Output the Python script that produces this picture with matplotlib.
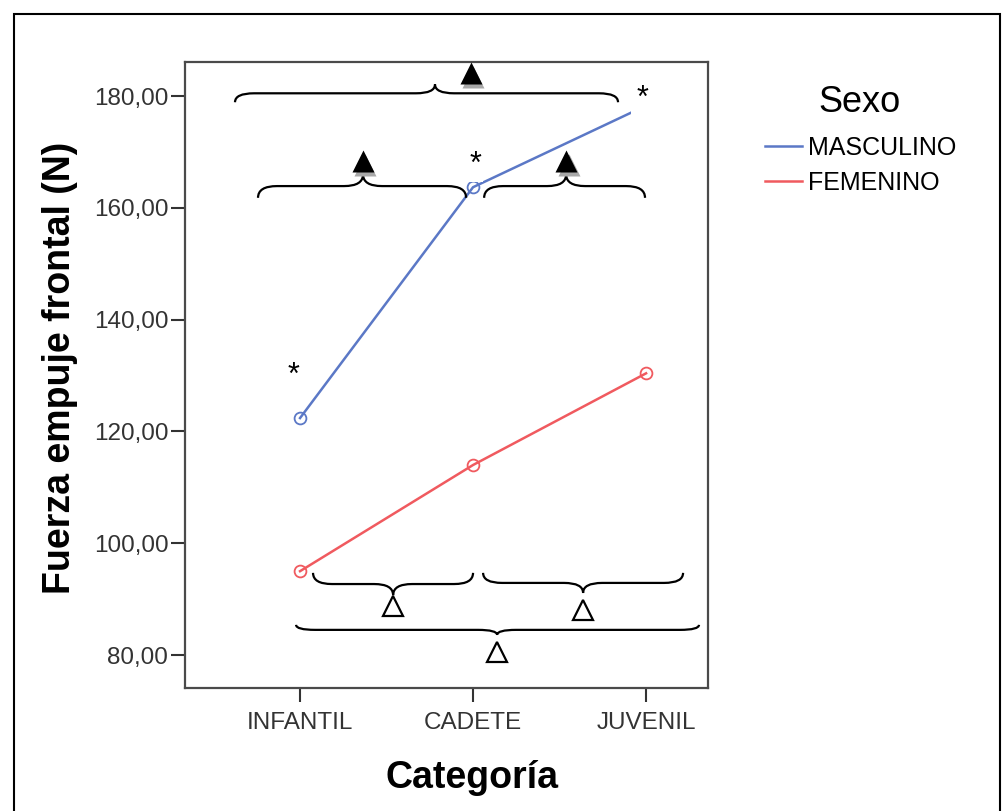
import matplotlib
matplotlib.use("Agg")
import matplotlib.pyplot as plt
from matplotlib.path import Path
from matplotlib.patches import PathPatch, Rectangle
from matplotlib.lines import Line2D

plt.rcParams['font.family'] = ['Liberation Sans', 'DejaVu Sans']

# data
categorias = ['INFANTIL', 'CADETE', 'JUVENIL']
masculino = [122.4, 163.7, 178.3]
femenino = [95.0, 114.0, 130.4]
yticks = [80, 100, 120, 140, 160, 180]

# significance brackets: (x0, x1, x tip, y at ends, height)
llaves_sup = [(-0.376, 1.838, 0.78, 178.9, 3.2),
              (-0.243, 0.96, 0.364, 161.8, 4.2),
              (1.064, 1.994, 1.538, 161.8, 4.2)]
marcas_sup = [(0.988, 184.1), (0.364, 168.4), (1.538, 168.4)]
llaves_inf = [(0.075, 1.0, 0.538, 94.7, -4.0),
              (1.058, 2.214, 1.636, 94.7, -3.6),
              (-0.023, 2.306, 1.139, 85.4, -1.8)]
marcas_inf = [(0.538, 88.8), (1.636, 88.0), (1.139, 80.6)]
# asterisks (x, baseline y, box pad)
asteriscos = [(-0.04, 128.5, 1.5), (1.017, 166.2, 1.0), (1.98, 178.0, 4.5)]


def llave(ax, x0, x1, xm, y0, h, w=0.11):
    ym = y0 + h / 2
    verts = [(x0, y0), (x0, ym), (x0 + w, ym),
             (xm - w, ym), (xm, ym), (xm, y0 + h),
             (xm, ym), (xm + w, ym),
             (x1 - w, ym), (x1, ym), (x1, y0)]
    codes = [Path.MOVETO, Path.CURVE3, Path.CURVE3,
             Path.LINETO, Path.CURVE3, Path.CURVE3,
             Path.CURVE3, Path.CURVE3,
             Path.LINETO, Path.CURVE3, Path.CURVE3]
    ax.add_patch(PathPatch(Path(verts, codes), fill=False, lw=1.6, color='black', zorder=4))


fig = plt.figure(figsize=(10.02, 8.11), dpi=100)
ax = fig.add_axes([185 / 1002, 1 - 688 / 811, 523 / 1002, 626 / 811])

azul = '#5b78c6'
rojo = '#f05a5f'
x = list(range(len(categorias)))
ax.plot(x, masculino, color=azul, lw=1.8, marker='o', ms=8.5, mfc='none', mew=1.3, zorder=3)
ax.plot(x, femenino, color=rojo, lw=1.8, marker='o', ms=8.5, mfc='none', mew=1.3, zorder=3)

for b in llaves_sup + llaves_inf:
    llave(ax, *b)
for mx, my in marcas_sup:
    ax.plot(mx + 0.014, my - 0.7, marker='^', ms=16, color='#a8a8a8', mec='none', zorder=5, clip_on=False)
    ax.plot(mx, my, marker='^', ms=16, color='black', mec='none', zorder=6, clip_on=False)
for mx, my in marcas_inf:
    ax.plot(mx, my, marker='^', ms=14, mfc='white', mec='black', mew=1.6, zorder=6)
for tx, ty, pad in asteriscos:
    ax.text(tx, ty, '*', ha='center', va='baseline', fontsize=22, zorder=7,
            bbox=dict(facecolor='white', edgecolor='none', pad=pad))

ax.set_xlim(-0.665, 2.358)
ax.set_ylim(74.1, 186.1)
ax.set_xticks(x)
ax.set_xticklabels(categorias)
ax.set_yticks(yticks)
ax.set_yticklabels(['%d,00' % v for v in yticks])
ax.tick_params(axis='both', labelsize=17.5, colors='#333333', length=10, width=1.5, pad=2)
ax.tick_params(axis='x', pad=7)
for s in ax.spines.values():
    s.set_color('#4a4a4a')
    s.set_linewidth(1.6)

ax.set_xlabel('Categoría', fontsize=27, fontweight='bold')
ax.xaxis.set_label_coords(0.549, -0.115)
ax.set_ylabel('Fuerza empuje frontal (N)', fontsize=27, fontweight='bold')
ax.yaxis.set_label_coords(-0.205, 0.512)

handles = [Line2D([], [], color=azul, lw=1.8), Line2D([], [], color=rojo, lw=1.8)]
ax.legend(handles, ['MASCULINO', 'FEMENINO'], loc='upper left',
          bbox_to_anchor=(765 / 1002, 1 - 136 / 811), bbox_transform=fig.transFigure,
          frameon=False, fontsize=18, handlelength=1.48, handletextpad=0.24,
          labelspacing=0.44, borderaxespad=0, borderpad=0)
fig.text(818 / 1002, 1 - 102 / 811, 'Sexo', fontsize=26, ha='left', va='center')

fig.add_artist(Rectangle((14 / 1002, -0.01), 986 / 1002, 1 - 14 / 811 + 0.01, transform=fig.transFigure,
                         fill=False, edgecolor='black', lw=1.5))

fig.savefig('out.png', dpi=100)
